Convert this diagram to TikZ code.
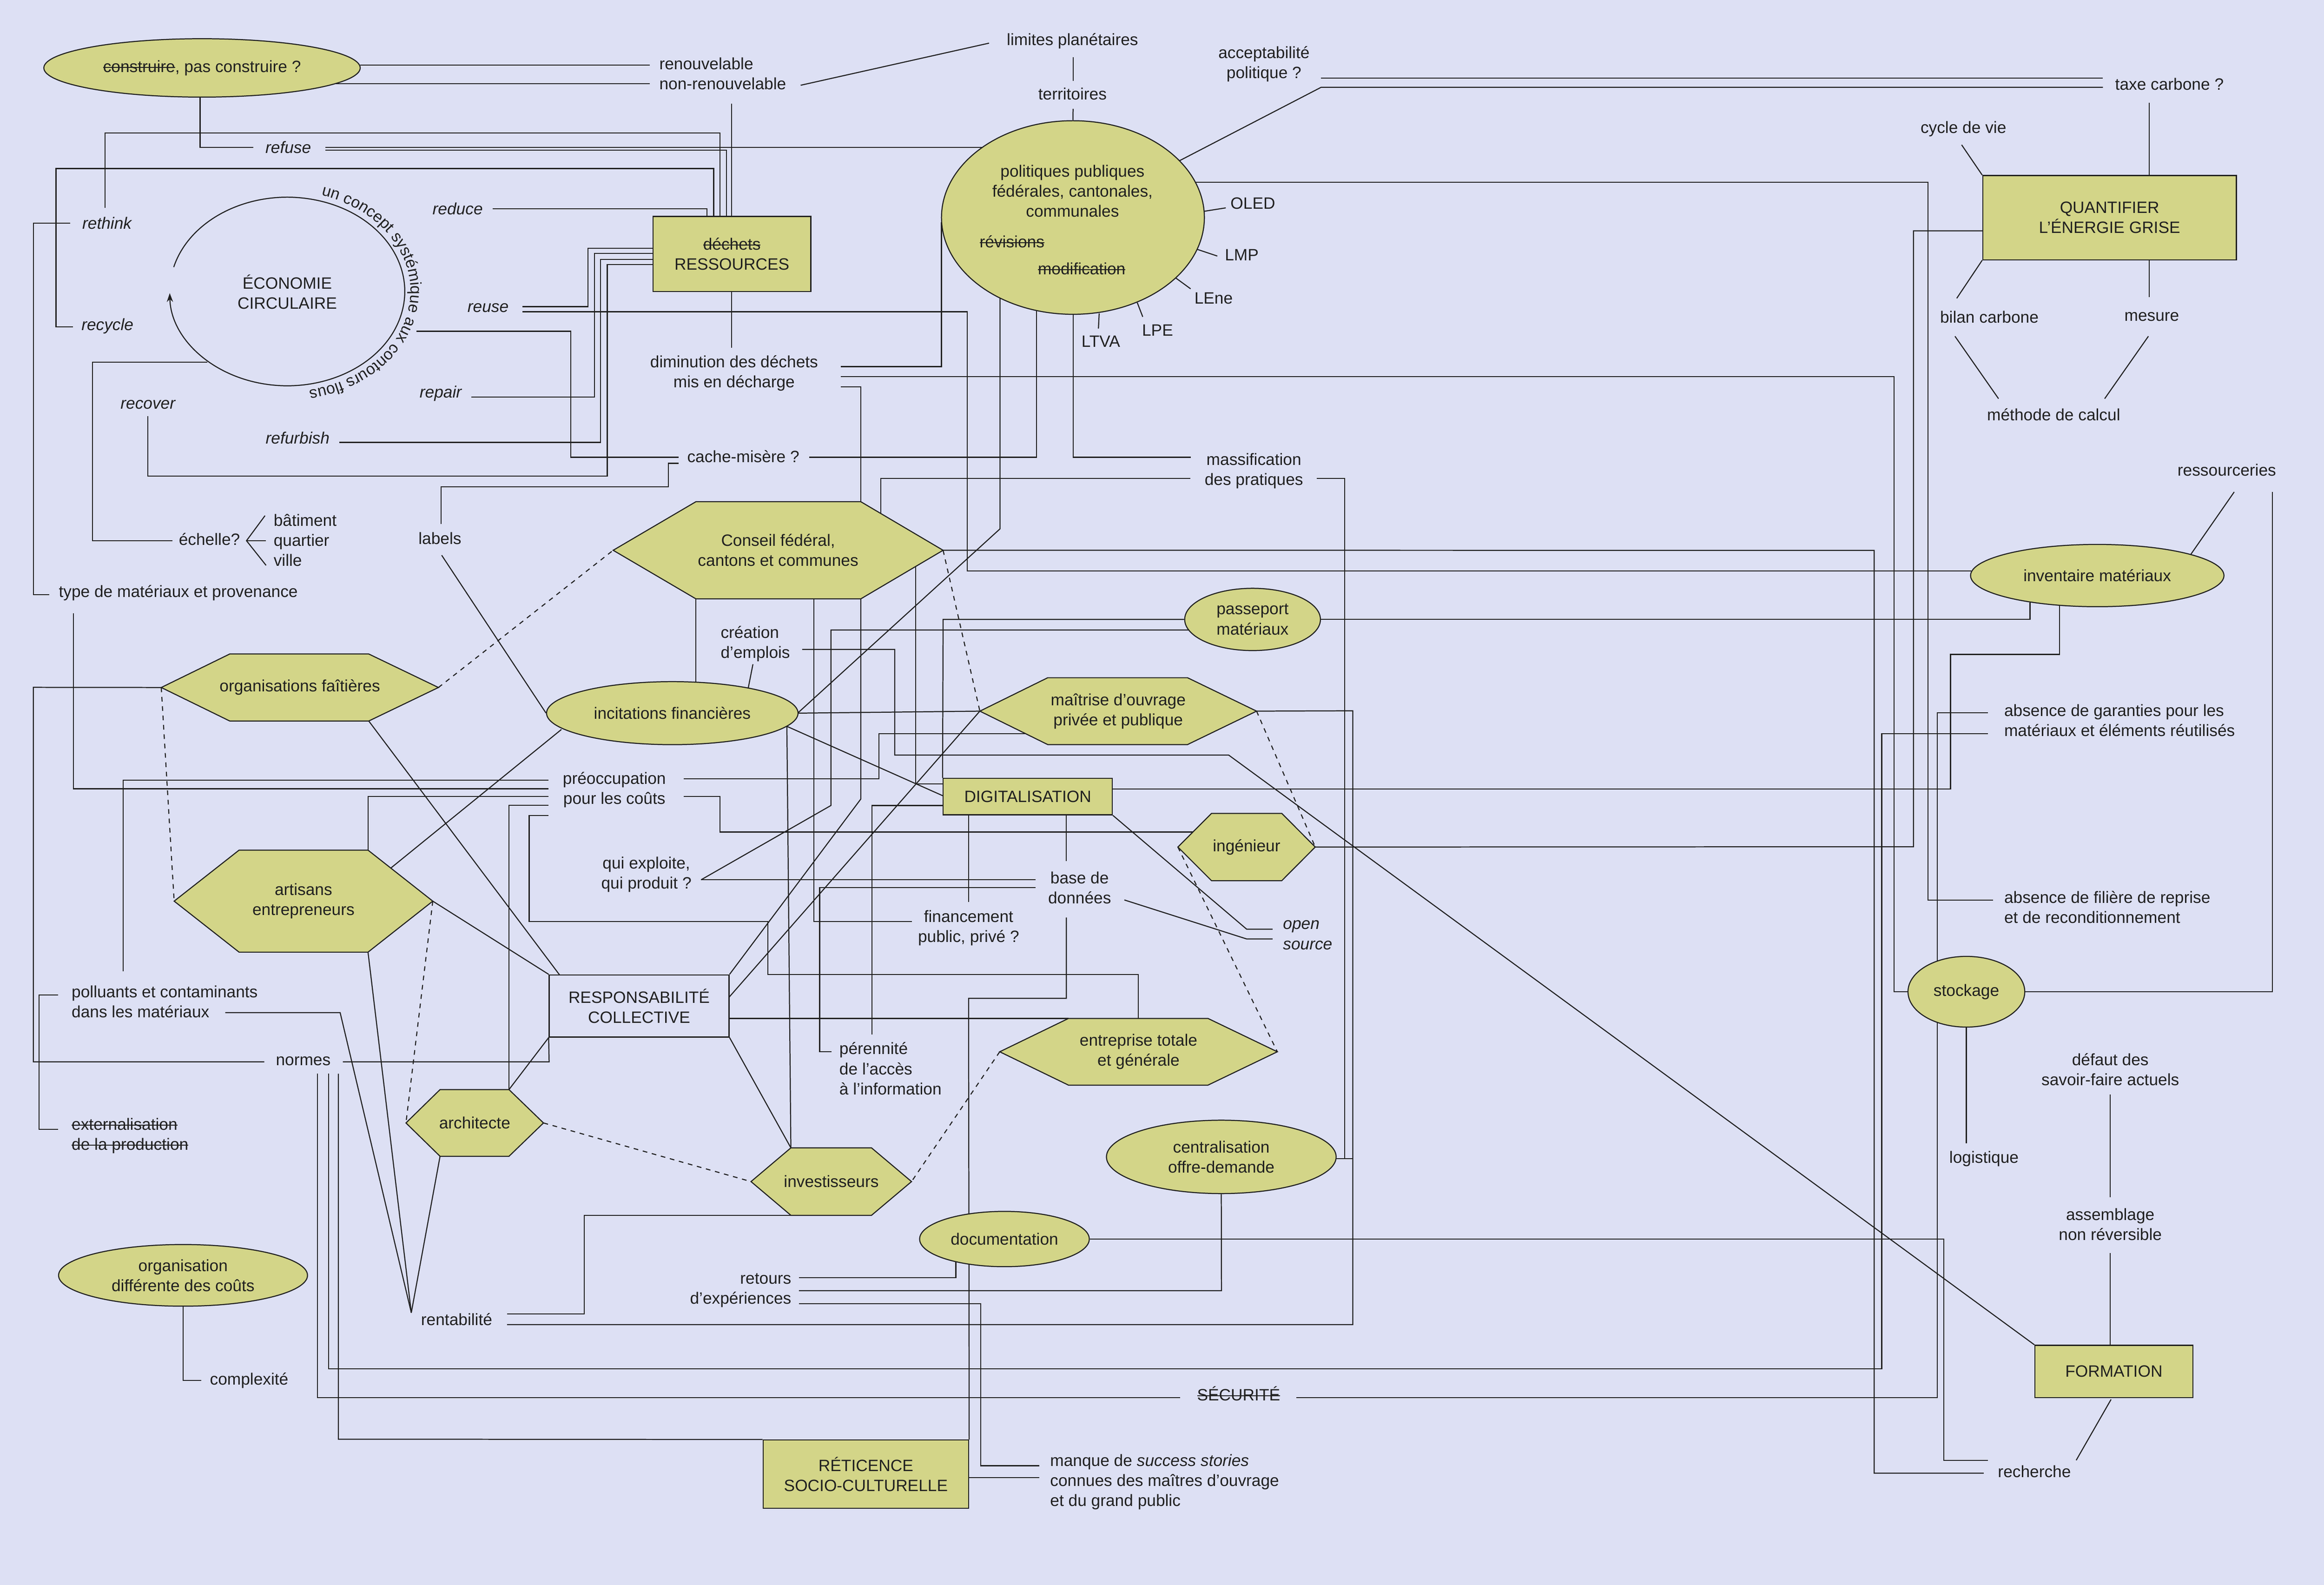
\documentclass[tikz,border=0pt]{standalone}
\usepackage{fontspec}
\setmainfont{Liberation Sans}
\usetikzlibrary{arrows.meta,decorations.text,shapes.geometric}
\pgfdeclarelayer{bgl}
\pgfdeclarelayer{edges}
\pgfsetlayers{bgl,edges,main}
\definecolor{bgc}{RGB}{221,224,244}
\definecolor{olv}{RGB}{211,213,136}
\definecolor{lnc}{RGB}{32,32,32}
\newsavebox{\strkbox}
\newcommand{\strk}[1]{\sbox{\strkbox}{#1}\rlap{\rule[0.27em]{\wd\strkbox}{0.35pt}}\usebox{\strkbox}}
\newcommand{\hexnode}[8]{%
  \coordinate (#1-l) at (#2,{(#6+#7)/2});
  \coordinate (#1-tl) at (#3,#6);
  \coordinate (#1-tr) at (#4,#6);
  \coordinate (#1-r) at (#5,{(#6+#7)/2});
  \coordinate (#1-br) at (#4,#7);
  \coordinate (#1-bl) at (#3,#7);
  \filldraw[hexf] (#1-l) -- (#1-tl) -- (#1-tr) -- (#1-r) -- (#1-br) -- (#1-bl) -- cycle;
  \node[txt] (#1) at ({(#2+#5)/2},{(#6+#7)/2}) {#8};
}
\begin{document}
\begin{tikzpicture}[x=0.02cm,y=-0.02cm,
  font=\fontsize{6.3}{7.7}\selectfont,
  conn/.style={draw=lnc, line width=0.4pt},
  dsh/.style={draw=lnc, line width=0.4pt, dash pattern=on 1.8pt off 1.8pt},
  txt/.style={inner sep=0pt, align=center, text=lnc},
  txl/.style={inner sep=0pt, align=left, anchor=west, text=lnc},
  txr/.style={inner sep=0pt, align=right, anchor=east, text=lnc},
  ell/.style={ellipse, draw=lnc, line width=0.4pt, fill=olv, inner sep=0pt, align=center, text=lnc},
  bx/.style={rectangle, draw=lnc, line width=0.4pt, fill=olv, inner sep=0pt, align=center, text=lnc},
  hexf/.style={fill=olv, draw=lnc, line width=0.4pt}]
\useasboundingbox (0,0) rectangle (1568,1069);
\begin{pgfonlayer}{bgl}
\fill[bgc] (0,0) rectangle (1568,1069);
\end{pgfonlayer}

% ---------- ellipses
\node[ell, minimum width=4.27cm, minimum height=0.788cm] (constr) at (136.3,45.8) {\strk{construire}, pas construire~?};
\node[ell, minimum width=3.548cm, minimum height=2.612cm] (polit) at (723.9,146.7) {};
\node[ell, minimum width=3.394cm, minimum height=0.85cm] (incit) at (453.6,481) {incitations financières};
\node[ell, minimum width=1.832cm, minimum height=0.84cm] (passep) at (845.1,417.8) {passeport\\matériaux};
\node[ell, minimum width=3.42cm, minimum height=0.84cm] (invent) at (1415,388.2) {inventaire matériaux};
\node[ell, minimum width=1.576cm, minimum height=0.954cm] (stock) at (1326.7,668.9) {stockage};
\node[ell, minimum width=3.1cm, minimum height=0.99cm] (central) at (824,780.3) {centralisation\\offre-demande};
\node[ell, minimum width=2.29cm, minimum height=0.746cm] (docu) at (677.7,835.7) {documentation};
\node[ell, minimum width=3.36cm, minimum height=0.832cm] (orgcout) at (123.5,860.2) {organisation\\différente des coûts};

% ---------- boxes
\node[bx, minimum width=2.13cm, minimum height=1.014cm] (ress) at (493.8,171.3) {\strk{déchets}\\RESSOURCES};
\node[bx, minimum width=3.424cm, minimum height=1.136cm] (quant) at (1423.3,146.8) {QUANTIFIER\\L’ÉNERGIE GRISE};
\node[bx, minimum width=2.284cm, minimum height=0.492cm] (digit) at (693.4,537.3) {DIGITALISATION};
\node[bx, fill=bgc, minimum width=2.428cm, minimum height=0.84cm] (resp) at (431.2,678.5) {RESPONSABILITÉ\\COLLECTIVE};
\node[bx, minimum width=2.774cm, minimum height=0.922cm] (retic) at (584.2,994.3) {RÉTICENCE\\SOCIO-CULTURELLE};
\node[bx, minimum width=2.132cm, minimum height=0.706cm] (form) at (1426.2,925) {FORMATION};

% ---------- hexagons
\hexnode{conseil}{413.7}{469.5}{580.8}{636.3}{338.4}{403.9}{Conseil fédéral,\\cantons et communes}
\hexnode{orgf}{108.8}{155}{248.8}{295.8}{441.1}{486.3}{organisations faîtières}
\hexnode{artis}{117.5}{161.3}{248.3}{292}{573.4}{642.2}{artisans\\entrepreneurs}
\hexnode{maitr}{661.1}{706.9}{801.2}{847.8}{457.1}{502.2}{maîtrise d’ouvrage\\privée et publique}
\hexnode{ingen}{794.7}{817.4}{864.8}{887.4}{548.6}{594}{ingénieur}
\hexnode{entre}{674.5}{720.9}{815}{861.8}{686.9}{731.9}{entreprise totale\\et générale}
\hexnode{archi}{273.9}{296.9}{343.4}{366.7}{734.9}{779.9}{architecte}
\hexnode{inves}{506.7}{533.6}{588}{615}{774.2}{819.7}{investisseurs}

% ---------- politiques texts
\node[txt] (polt) at (723.6,128.9) {politiques publiques\\fédérales, cantonales,\\communales};
\node[txt] (revis) at (682.8,163) {\strk{révisions}};
\node[txt] (modif) at (729.8,181.2) {\strk{modification}};

% ---------- free labels
\node[txl] (renouv) at (444.5,49.6) {renouvelable\\non-renouvelable};
\node[txt] (limites) at (723.6,27.7) {limites planétaires};
\node[txt] (territ) at (723.6,63.2) {territoires};
\node[txt] (accept) at (852.8,43.2) {acceptabilité\\politique~?};
\node[txt] (taxe) at (1463.7,56.8) {taxe carbone~?};
\node[txt] (cycle) at (1324.7,87.1) {cycle de vie};
\node[txt] (oled) at (845.3,137.1) {OLED};
\node[txt] (lmp) at (837.8,172) {LMP};
\node[txt] (lene) at (818.8,201.2) {LEne};
\node[txt] (lpe) at (781,222.8) {LPE};
\node[txt] (ltva) at (742.7,230.3) {LTVA};
\node[txt] (bilan) at (1342.2,213.7) {bilan carbone};
\node[txt] (mesure) at (1451.8,213.7) {mesure};
\node[txt] (methode) at (1385.6,279.6) {méthode de calcul};
\node[txt] (ressourc) at (1502.4,316.9) {ressourceries};
\node[txt] (refuse) at (194.5,99.3) {\textit{refuse}};
\node[txt] (rethink) at (72.4,150.5) {\textit{rethink}};
\node[txt] (reduce) at (308.8,140.9) {\textit{reduce}};
\node[txt] (recycle) at (72.5,220) {\textit{recycle}};
\node[txt] (reuse) at (329.3,207.5) {\textit{reuse}};
\node[txt] (repair) at (297.5,265.5) {\textit{repair}};
\node[txt] (recover) at (100,272.8) {\textit{recover}};
\node[txt] (refurb) at (200.8,295.5) {\textit{refurbish}};
\node[txt] (econ) at (193.8,196.9) {ÉCONOMIE\\CIRCULAIRE};
\node[txt] (dimin) at (495.3,251.8) {diminution des déchets\\mis en décharge};
\node[txt] (cache) at (501.5,308) {cache-misère~?};
\node[txt] (massif) at (846,317.7) {massification\\des pratiques};
\node[txt] (echelle) at (141.3,363.6) {échelle?};
\node[txl] (echl) at (184.3,364.3) {bâtiment\\quartier\\ville};
\node[txt] (labels) at (296.8,363.1) {labels};
\node[txt] (type) at (120.3,400) {type de matériaux et provenance};
\node[txl] (creation) at (485.9,434.3) {création\\d’emplois};
\node[txt] (preocc) at (414.5,532.6) {préoccupation\\pour les coûts};
\node[txt] (quiexp) at (436.1,589.8) {qui exploite,\\qui produit~?};
\node[txt] (basedon) at (728.4,598.9) {base de\\données};
\node[txt] (financ) at (653.5,625.8) {financement\\public, privé~?};
\node[txl] (opensrc) at (865.3,630.7) {\textit{open}\\\textit{source}};
\node[txl] (perenn) at (566,720.7) {pérennité\\de l’accès\\à l’information};
\node[txl] (pollu) at (48,675.7) {polluants et contaminants\\dans les matériaux};
\node[txt] (normes) at (204.6,715.7) {normes};
\node[txl] (extern) at (48,766.2) {\strk{externalisation}\\\strk{de la production}};
\node[txt] (rentab) at (308.1,889.9) {rentabilité};
\node[txt] (complex) at (168.1,931) {complexité};
\node[txr] (retours) at (534.2,870.4) {retours\\d’expériences};
\node[txt] (secur) at (835.7,940.1) {\strk{SÉCURITÉ}};
\node[txl] (manque) at (708.2,999.6) {manque de \textit{success stories}\\connues des maîtres d’ouvrage\\et du grand public};
\node[txl] (absgar) at (1351.9,485.8) {absence de garanties pour les\\matériaux et éléments réutilisés};
\node[txl] (absfil) at (1351.9,611.9) {absence de filière de reprise\\et de reconditionnement};
\node[txt] (logist) at (1338.6,781.7) {logistique};
\node[txt] (defaut) at (1423.8,721.4) {défaut des\\savoir-faire actuels};
\node[txt] (assemb) at (1423.8,825.9) {assemblage\\non réversible};
\node[txt] (recher) at (1372.6,992.4) {recherche};

% ---------- circle of économie circulaire
\draw[conn, -{Stealth[length=3.4pt,width=2.4pt]}] ([shift={(165:1.586cm and 1.272cm)}]193.8,196.6) arc[start angle=165, end angle=-179, x radius=1.586cm, y radius=1.272cm];
\path[decorate, decoration={text along path, text align=left, text color=lnc,
  text={|\fontsize{6.1}{7.5}\selectfont|un concept systémique aux contours flous}}]
  ([shift={(74:1.665cm and 1.35cm)}]193.8,196.6) arc[start angle=74, end angle=-140, x radius=1.665cm, y radius=1.35cm];

% ---------- connectors
\begin{pgfonlayer}{edges}
\draw[conn] (243,43.9) -- (438.5,43.9);
\draw[conn] (226.3,56.4) -- (438.5,56.4);
\draw[conn] (135,65.5) -- (135,99.3) -- (170.8,99.3);
\draw[conn] (219.5,99.3) -- (663,99.3);
\draw[conn] (219.5,101.3) -- (490.2,101.3) -- (490.2,145.9);
\draw[conn] (47.5,150.5) -- (22.5,150.5) -- (22.5,401.1) -- (33.3,401.1);
\draw[conn] (70.8,140.2) -- (70.8,89.8) -- (485.7,89.8) -- (485.7,145.9);
\draw[conn] (49.3,220.5) -- (37.8,220.5) -- (37.8,113.7) -- (481.5,113.7) -- (481.5,145.9);
\draw[conn] (332.5,140.9) -- (477,140.9) -- (477,145.9);
\draw[conn] (493.5,69.8) -- (493.5,145.9);
\draw[conn] (540.2,57.5) -- (667.3,29.1);
\draw[conn] (724,38.6) -- (724,54.6);
\draw[conn] (724,73.4) -- (polit.north);
\draw[conn] (352.5,206.8) -- (396.7,206.8) -- (396.7,167.5) -- (440.5,167.5);
\draw[conn] (352.5,210.3) -- (652.7,210.3) -- (652.7,385) -- (1330,385);
\draw[conn] (281,223.4) -- (385,223.4) -- (385,308.4) -- (457.7,308.4);
\draw[conn] (318,267.8) -- (401,267.8) -- (401,170.9) -- (440.5,170.9);
\draw[conn] (228.8,298.4) -- (405.2,298.4) -- (405.2,175) -- (440.5,175);
\draw[conn] (99.8,280.7) -- (99.8,321.2) -- (409.7,321.2) -- (409.7,178.4) -- (440.5,178.4);
\draw[conn] (297.5,353.5) -- (297.5,328.4) -- (451,328.4) -- (451,312.5) -- (457.7,312.5);
\draw[conn] (140,244.3) -- (62.5,244.3) -- (62.5,364.7) -- (116.3,364.7);
\draw[conn] (178.8,347.8) -- (166.3,364.7) -- (179.5,381.3);
\draw[conn] (166.3,364.7) -- (179.5,364.7);
\draw[conn] (493.5,196.6) -- (493.5,234.6);
\draw[conn] (567.2,247.3) -- (635.2,247.3) -- (635.2,150);
\draw[conn] (567.2,254.1) -- (1277.8,254.1) -- (1277.8,668.9) -- (stock.west);
\draw[conn] (567.2,261) -- (580.8,261) -- (conseil-tr);
\draw[conn] (546,308.4) -- (699.2,308.4) -- (699.2,209.4);
\draw[conn] (724,212) -- (724,308.4) -- (803.3,308.4);
\draw[conn] (594.3,346.4) -- (594.3,322.8) -- (803,322.8);
\draw[conn] (888.3,322.8) -- (907.3,322.8) -- (907.3,781.4) -- (901.4,781.4);
\draw[conn] (674.7,201) -- (674.7,356.7) -- (538.5,480.7);
\draw[conn] (795.8,108.4) -- (891.3,58.9) -- (1418.8,58.9);
\draw[conn] (891.3,52.7) -- (1418.8,52.7);
\draw[conn] (1450,69.3) -- (1450,118.4);
\draw[conn] (1323.5,97.7) -- (quant.north west);
\draw[conn] (quant.south west) -- (1320.2,201.2);
\draw[conn] (1450,175.2) -- (1450,200.5);
\draw[conn] (1319,226.8) -- (1348.4,268.9);
\draw[conn] (1449.5,226.8) -- (1420,268.9);
\draw[conn] (806.6,123) -- (1300.8,123) -- (1300.8,607) -- (1344.7,607);
\draw[conn] (812.5,142.5) -- (827,140.2);
\draw[conn] (807.8,168.2) -- (821.3,172.7);
\draw[conn] (793.3,187.5) -- (803.3,194.8);
\draw[conn] (767.3,204.1) -- (771,213.7);
\draw[conn] (741.6,211.4) -- (741.1,221.6);
\draw[conn] (conseil-r) -- (1264.5,371.2) -- (1264.5,993.6) -- (1338.4,993.6);
\draw[conn] (469.5,403.9) -- (469.5,460.2);
\draw[conn] (549,403.9) -- (549,621.5) -- (615.3,621.5);
\draw[conn] (580.8,403.9) -- (580.8,538.9) -- (resp.north east);
\draw[conn] (617.7,382.3) -- (617.7,528.6) -- (636.3,528.6);
\draw[dsh] (conseil-r) -- (maitr-l);
\draw[dsh] (orgf-r) -- (conseil-l);
\draw[dsh] (orgf-l) -- (artis-l);
\draw[conn] (orgf-l) -- (22.5,463.6) -- (22.5,716.2) -- (178.3,716.2);
\draw[conn] (orgf-br) -- (377.5,657.5);
\draw[conn] (298,374.5) -- (incit.west);
\draw[conn] (263.8,585.4) -- (378.8,492);
\draw[conn] (artis-r) -- (resp.north west);
\draw[conn] (artis-br) -- (277.5,885.4);
\draw[dsh] (artis-r) -- (archi-l);
\draw[conn] (artis-tr) -- (248.3,537.2) -- (370,537.2);
\draw[conn] (83,655.2) -- (83,526.3) -- (370,526.3);
\draw[conn] (49.5,413.6) -- (49.5,532) -- (370,532);
\draw[conn] (archi-tr) -- (343.4,543.1) -- (370,543.1);
\draw[conn] (370,550) -- (357,550) -- (357,621.6) -- (518,621.6) -- (518,657.4) -- (768,657.4) -- (768,686.9);
\draw[conn] (461.4,525.3) -- (592.9,525.3) -- (592.9,494.9) -- (692.4,494.9);
\draw[conn] (461.4,537.1) -- (485.7,537.1) -- (485.7,561.2) -- (804.7,561.2);
\draw[conn] (39.3,671.1) -- (26.3,671.1) -- (26.3,761.8) -- (39.3,761.8);
\draw[conn] (152,683) -- (229.5,683) -- (277.5,885.4);
\draw[conn] (231.3,716.2) -- (370.5,716.2) -- (resp.south west);
\draw[conn] (resp.south west) -- (archi-tr);
\draw[conn] (214.1,724.2) -- (214.1,942.6) -- (796.3,942.6);
\draw[conn] (221.6,724.2) -- (221.6,923.2) -- (1269.6,923.2) -- (1269.6,494.9) -- (1341.4,494.9);
\draw[conn] (228.3,724.2) -- (228.3,970.7) -- (retic.north west);
\draw[conn] (archi-bl) -- (277.5,885.4);
\draw[dsh] (archi-r) -- (inves-l);
\draw[conn] (342.1,886.2) -- (394.1,886.2) -- (394.1,819.7) -- (inves-bl);
\draw[conn] (342.1,893.4) -- (912.7,893.4) -- (912.7,479.4) -- (maitr-r);
\draw[conn] (901.4,781.4) -- (912.7,781.4);
\draw[conn] (orgcout.south) -- (123.5,931) -- (135.8,931);
\draw[conn] (resp.south east) -- (inves-tl);
\draw[conn] (530.9,489.9) -- (inves-tl);
\draw[conn] (530.9,489.9) -- (636.3,536.8);
\draw[conn] (incit.east) -- (maitr-l);
\draw[conn] (491.9,672.6) -- (maitr-l);
\draw[conn] (491.9,686.9) -- (entre-tl);
\draw[conn] (504.8,464.2) -- (508,448);
\draw[conn] (541.2,438) -- (603.7,438) -- (603.7,509.3) -- (829,509.3) -- (form.north west);
\draw[conn] (802,424.9) -- (560.6,424.9) -- (560.6,543.3) -- (473,593.4);
\draw[conn] (473,593.4) -- (698.8,593.4);
\draw[conn] (561.1,709.3) -- (553,709.3) -- (553,598.7) -- (698.8,598.7);
\draw[conn] (digit.north west) -- (636.3,417.8) -- (passep.west);
\draw[conn] (passep.east) -- (1369.6,417.8) -- (1369.6,406.3);
\draw[conn] (750.5,532.1) -- (1316,532.1) -- (1316,441.4) -- (1389.6,441.4) -- (1389.6,408.3);
\draw[conn] (588.3,697.6) -- (588.3,543.3) -- (636.3,543.3);
\draw[conn] (653.5,549.6) -- (653.5,608.4);
\draw[conn] (719.5,549.6) -- (719.5,580.8);
\draw[conn] (digit.south east) -- (841.1,626.7) -- (858.6,626.7);
\draw[conn] (758.6,607) -- (841.1,633.3) -- (858.6,633.3);
\draw[conn] (719.5,618.8) -- (719.5,673.4) -- (653.5,673.4) -- (retic.north east);
\draw[dsh] (maitr-r) -- (ingen-r);
\draw[dsh] (ingen-l) -- (entre-r);
\draw[conn] (ingen-r) -- (1291,571.1) -- (1291,155.7) -- (1337.7,155.7);
\draw[dsh] (entre-l) -- (inves-r);
\draw[conn] (docu.east) -- (1311.5,835.7) -- (1311.5,984.9) -- (1341.4,984.9);
\draw[conn] (644.9,851) -- (644.9,861.8) -- (539,861.8);
\draw[conn] (539,870.5) -- (824.1,870.5) -- (central.south);
\draw[conn] (539,879.4) -- (661.6,879.4) -- (661.6,988.6) -- (701.2,988.6);
\draw[conn] (653.5,996.6) -- (701.2,996.6);
\draw[conn] (874.7,942.6) -- (1307,942.6) -- (1307,480.7) -- (1341.4,480.7);
\draw[conn] (stock.east) -- (1533.1,668.9) -- (1533.1,331.8);
\draw[conn] (1507.4,331.8) -- (1478.2,373.8);
\draw[conn] (stock.south) -- (1326.7,771);
\draw[conn] (1423.8,738.1) -- (1423.8,807.5);
\draw[conn] (1423.8,845.1) -- (1423.8,907.3);
\draw[conn] (1424.3,943.9) -- (1400.8,984.9);
\end{pgfonlayer}
\end{tikzpicture}
\end{document}
